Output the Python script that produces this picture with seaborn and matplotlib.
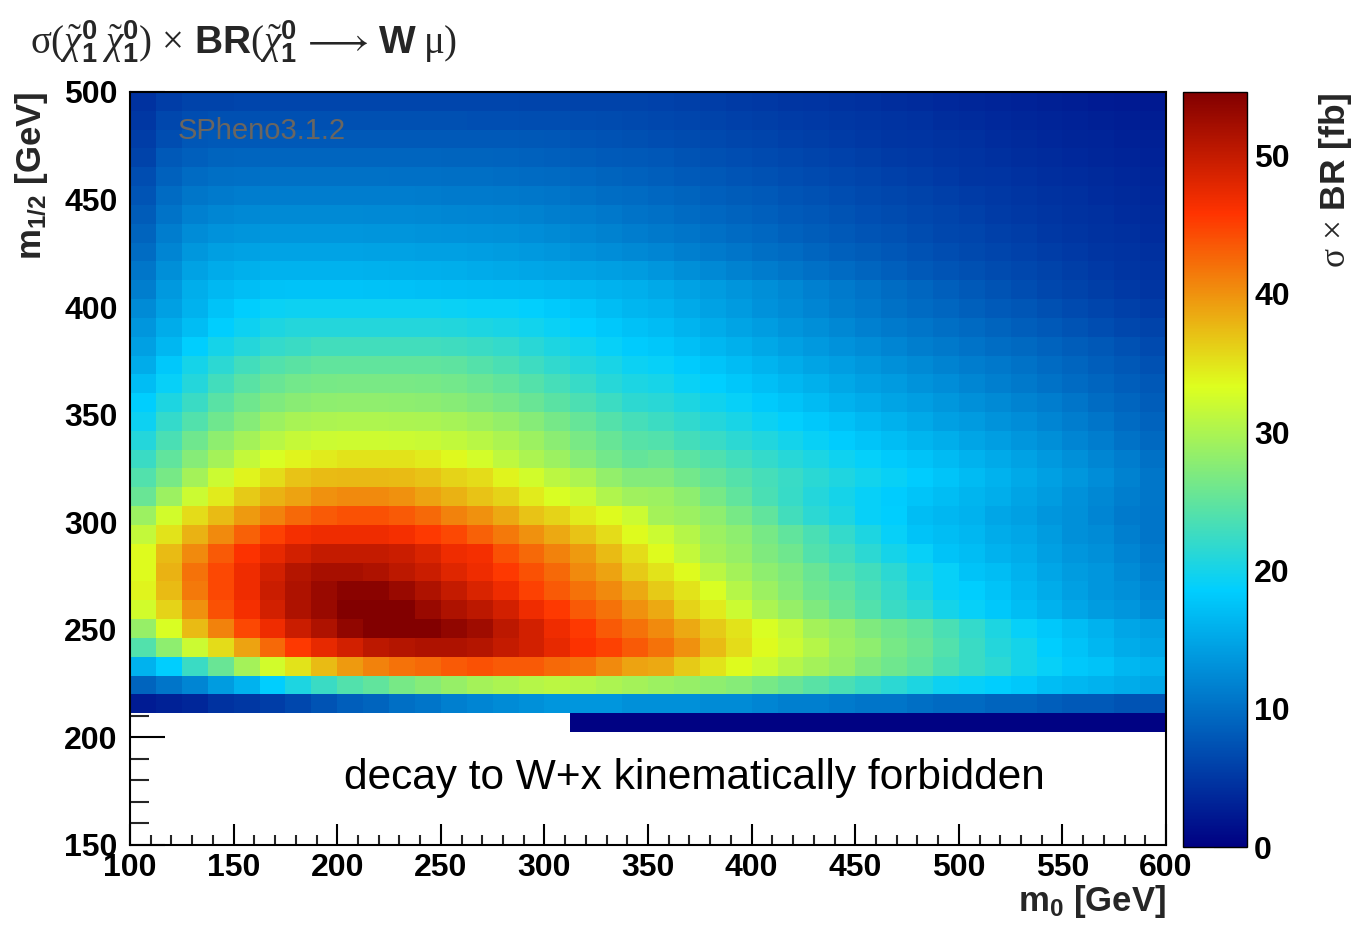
import numpy as np
import pandas as pd
import matplotlib
matplotlib.use("Agg")
import matplotlib.pyplot as plt
import seaborn as sns
from matplotlib.colors import LinearSegmentedColormap

# ---------------- data ----------------
# bins: m0 100..600 GeV (40 bins of 12.5), m1/2 150..500 GeV (40 bins of 8.75)
m0_low = np.arange(100.0, 600.0, 12.5)
m12_low = np.arange(150.0, 500.0, 8.75)

# sigma x BR [fb]; rows from top (m1/2 = 491.25-500) downwards to m1/2 = 202.5-211.25
# columns m0 = 100 ... 587.5 (bin lower edges)
sigma_br_rows = [
    [4.5,5.5,6.0,6.0,6.2,6.2,6.2,6.2,6.2,6.2,6.2,6.2,6.2,6.2,6.2,6.1,6.1,6.0,6.0,6.0, 5.9,5.7,5.5,5.3,5.1,4.9,4.7,4.5,4.3,4.1,3.9,3.7,3.5,3.3,3.1,2.9,2.7,2.5,2.4,2.3],
    [5.0,6.5,7.0,7.2,7.2,7.2,7.2,7.2,7.2,7.2,7.2,7.2,7.2,7.1,7.1,7.0,7.0,6.9,6.8,6.6, 6.4,6.2,6.0,5.8,5.6,5.4,5.2,5.0,4.8,4.6,4.4,4.1,3.9,3.7,3.5,3.3,3.1,2.9,2.7,2.6],
    [5.5,7.0,7.8,8.0,8.1,8.1,8.1,8.1,8.1,8.1,8.1,8.1,8.1,8.0,8.0,7.9,7.8,7.6,7.4,7.2, 7.0,6.8,6.6,6.3,6.1,5.8,5.6,5.4,5.1,4.9,4.7,4.5,4.3,4.0,3.8,3.6,3.4,3.2,3.0,2.9],
    [6.0,8.0,8.6,9.0,9.1,9.1,9.1,9.1,9.1,9.1,9.1,9.1,9.0,9.0,8.9,8.8,8.6,8.4,8.2,8.0, 7.8,7.5,7.2,7.0,6.7,6.4,6.1,5.9,5.6,5.3,5.1,4.8,4.6,4.3,4.1,3.9,3.7,3.5,3.3,3.1],
    [7.0,8.8,9.6,10.0,10.1,10.2,10.2,10.2,10.2,10.2,10.1,10.1,10.0,10.0,9.9,9.7,9.5,9.3,9.0,8.8, 8.5,8.2,7.9,7.6,7.3,7.0,6.7,6.4,6.1,5.8,5.5,5.2,4.9,4.7,4.4,4.2,4.0,3.8,3.6,3.4],
    [7.6,9.6,10.6,11.0,11.2,11.3,11.3,11.3,11.3,11.2,11.2,11.1,11.0,11.0,10.9,10.7,10.5,10.2,9.9,9.6, 9.3,9.0,8.6,8.3,8.0,7.6,7.3,7.0,6.6,6.3,6.0,5.7,5.4,5.1,4.8,4.5,4.3,4.0,3.8,3.6],
    [8.3,10.4,11.6,12.1,12.3,12.4,12.4,12.4,12.4,12.3,12.3,12.2,12.1,12.0,11.9,11.7,11.4,11.1,10.8,10.4, 10.1,9.7,9.3,8.9,8.6,8.2,7.8,7.5,7.1,6.8,6.4,6.1,5.8,5.4,5.1,4.8,4.5,4.3,4.0,3.8],
    [9.0,11.2,12.6,13.2,13.4,13.5,13.5,13.5,13.5,13.4,13.4,13.3,13.2,13.1,13.0,12.7,12.4,12.1,11.7,11.3, 10.9,10.5,10.1,9.7,9.3,8.8,8.4,8.0,7.6,7.3,6.9,6.5,6.2,5.8,5.5,5.1,4.8,4.5,4.3,4.0],
    [9.8,12.0,13.6,14.3,14.6,14.7,14.7,14.7,14.7,14.6,14.6,14.5,14.4,14.2,14.0,13.8,13.5,13.1,12.7,12.3, 12.0,11.5,11.0,10.5,10.0,9.6,9.1,8.7,8.3,7.8,7.4,7.0,6.6,6.2,5.9,5.5,5.2,4.9,4.6,4.3],
    [10.6,12.9,14.6,15.4,15.8,16.0,16.0,16.0,16.0,15.9,15.8,15.7,15.6,15.4,15.2,15.0,14.8,14.6,14.3,14.0, 13.5,12.9,12.3,11.7,11.1,10.6,10.1,9.6,9.1,8.6,8.1,7.6,7.2,6.8,6.4,6.0,5.6,5.2,4.9,4.6],
    [11.4,13.8,15.6,16.6,17.1,17.4,17.5,17.5,17.5,17.4,17.3,17.2,17.1,17.0,16.9,16.8,16.6,16.4,16.1,15.7, 15.2,14.6,14.0,13.4,12.8,12.2,11.6,11.0,10.4,9.8,9.2,8.6,8.0,7.5,7.0,6.5,6.0,5.6,5.2,4.9],
    [12.5,14.5,16.0,17.5,18.5,19.3,19.5,19.5,19.5,19.5,19.5,19.5,19.2,19.0,19.0,18.7,18.2,17.8,17.0,16.4, 16.0,15.3,14.6,13.9,13.2,12.6,12.0,11.4,10.8,10.2,9.7,9.2,8.7,8.2,7.7,7.2,6.7,6.2,5.8,5.4],
    [13.5,15.5,17.0,18.5,19.5,20.5,21.0,21.0,21.0,21.0,21.0,21.0,20.8,20.5,20.2,19.8,19.2,18.6,18.0,17.3, 16.9,16.2,15.5,14.8,14.1,13.4,12.8,12.2,11.6,11.0,10.5,10.0,9.5,9.0,8.5,8.0,7.5,7.0,6.5,6.0],
    [14.5,16.5,18.5,20.0,21.0,22.0,22.5,23.0,23.0,23.0,23.0,23.0,22.8,22.5,22.0,21.3,20.5,19.8,19.0,18.3, 17.9,17.2,16.5,15.8,15.1,14.4,13.8,13.2,12.6,12.0,11.4,10.9,10.4,9.9,9.4,8.9,8.4,7.9,7.3,6.7],
    [15.5,18.0,20.0,21.5,23.0,24.0,24.6,25.0,25.0,25.0,25.0,25.0,24.8,24.2,23.5,22.7,21.8,21.0,20.2,19.4, 19.0,18.3,17.6,16.9,16.2,15.5,14.8,14.2,13.6,13.0,12.4,11.8,11.3,10.8,10.3,9.7,9.1,8.5,7.9,7.3],
    [17.0,19.0,21.0,23.0,24.5,25.5,26.2,26.5,26.6,26.6,26.6,26.5,26.2,25.6,25.0,24.2,23.2,22.2,21.2,20.4, 20.1,19.3,18.6,17.9,17.2,16.5,15.8,15.1,14.5,13.9,13.3,12.7,12.1,11.5,10.9,10.3,9.7,9.1,8.5,7.9],
    [18.5,20.5,22.5,24.5,26.0,27.0,27.7,28.0,28.1,28.1,28.0,27.9,27.6,27.0,26.4,25.5,24.6,23.6,22.6,21.6, 21.3,20.5,19.7,19.0,18.2,17.5,16.8,16.1,15.4,14.8,14.2,13.6,13.0,12.4,11.8,11.2,10.5,9.8,9.1,8.4],
    [19.5,22.0,24.0,26.0,27.5,29.0,29.7,30.0,30.1,30.1,30.0,29.9,29.6,29.1,28.4,27.5,26.4,25.3,24.2,23.2, 22.6,21.8,21.0,20.2,19.4,18.7,18.0,17.3,16.6,15.9,15.2,14.5,13.9,13.3,12.7,12.0,11.3,10.5,9.7,8.9],
    [21.0,23.5,26.0,28.0,29.5,30.8,31.6,32.0,32.1,32.1,32.0,31.8,31.4,30.8,30.0,29.0,27.8,26.6,25.4,24.4, 24.0,23.1,22.3,21.5,20.7,19.9,19.1,18.4,17.7,17.0,16.3,15.6,14.9,14.2,13.5,12.8,12.0,11.2,10.3,9.4],
    [22.5,25.0,27.5,29.5,31.5,33.0,34.0,34.5,35.0,35.0,35.0,34.5,33.6,32.6,31.2,30.0,29.0,27.5,26.2,25.2, 25.6,24.7,23.8,22.9,22.0,21.2,20.4,19.6,18.9,18.2,17.5,16.8,16.0,15.3,14.6,13.8,13.0,12.1,11.2,10.2],
    [24.0,26.5,29.5,32.0,34.0,35.5,37.0,37.5,37.6,37.6,37.5,37.0,36.0,35.5,34.0,32.5,31.0,30.0,28.3,27.2, 27.2,26.2,25.2,24.2,23.2,22.3,21.4,20.6,19.8,19.1,18.4,17.6,16.8,16.0,15.2,14.4,13.6,12.7,11.7,10.6],
    [25.5,29.0,32.0,34.5,36.5,38.0,39.0,40.0,40.5,40.5,40.0,39.0,38.0,37.0,36.0,34.5,33.0,32.0,30.2,29.2, 29.0,28.0,26.5,25.0,23.5,22.2,21.0,20.0,19.0,18.4,17.7,17.0,16.3,15.6,14.8,14.0,13.1,12.2,11.4,10.6],
    [29.0,32.5,35.5,37.5,39.5,41.0,42.5,43.5,44.0,44.0,43.5,42.5,41.0,40.0,38.5,37.0,36.0,34.5,33.5,32.0, 29.5,29.0,28.0,26.5,25.0,23.0,21.5,20.5,19.0,18.5,17.0,16.5,16.0,15.0,14.5,13.5,13.0,12.0,11.0,10.5],
    [31.5,35.0,38.0,40.5,43.0,45.0,46.5,47.0,47.0,47.0,46.5,45.5,44.5,43.0,41.5,40.0,38.5,37.0,35.5,33.5, 32.0,30.5,29.0,28.0,26.5,25.0,23.5,22.0,20.5,19.0,17.5,17.0,16.5,15.5,15.0,14.0,13.0,12.5,11.5,10.5],
    [33.5,37.5,40.5,43.5,46.0,47.5,49.0,50.0,50.0,50.0,49.5,48.5,47.0,46.5,44.0,42.5,41.0,39.5,37.5,35.5, 33.5,31.5,29.5,28.5,27.0,26.0,24.0,23.0,21.5,20.0,19.0,17.5,17.0,16.0,15.5,14.5,13.5,13.0,12.0,11.0],
    [33.5,38.0,42.0,44.5,47.0,49.0,51.0,52.0,52.0,51.5,50.5,49.5,48.0,47.0,45.5,44.0,42.5,40.5,39.0,36.5, 35.0,33.5,31.0,29.5,28.0,27.0,25.5,24.0,23.0,21.5,20.0,19.0,17.5,17.0,16.0,15.0,14.0,13.5,12.5,11.5],
    [34.0,37.5,41.5,44.5,47.0,49.5,51.5,53.0,54.0,54.0,53.0,51.5,50.0,48.5,47.0,45.0,43.5,42.0,40.5,38.5, 36.5,35.0,33.0,30.5,29.0,27.5,26.0,25.0,23.5,22.0,20.5,19.0,18.5,17.5,16.5,15.5,14.5,13.5,13.0,12.0],
    [32.5,36.0,40.0,44.0,46.5,49.0,51.5,53.0,54.5,54.5,54.5,53.0,51.5,50.5,49.0,47.0,45.5,43.5,42.0,40.0, 38.5,36.0,34.5,32.0,30.0,28.5,27.0,25.5,24.0,22.5,21.5,20.0,19.0,18.0,17.0,16.0,15.0,14.0,13.5,12.5],
    [28.5,33.0,37.5,41.0,44.5,47.0,49.5,51.5,53.5,54.5,54.5,54.5,53.5,52.5,50.5,49.0,47.0,45.5,43.5,42.0, 40.5,38.5,36.5,35.0,33.0,31.5,29.5,28.5,27.0,26.0,25.0,23.5,22.0,20.5,19.0,18.0,17.0,16.0,15.0,14.5],
    [24.0,28.0,32.0,35.5,39.0,42.5,45.5,47.5,49.0,50.5,51.0,51.5,51.5,51.0,50.0,49.0,47.5,46.0,45.0,43.5, 42.0,40.0,37.5,35.5,33.5,32.0,30.5,29.0,28.0,26.5,25.5,24.0,22.5,21.0,20.0,18.5,17.5,16.5,15.5,15.0],
    [16.0,18.5,22.5,25.5,29.5,32.5,35.0,37.5,39.5,41.0,42.0,42.5,43.5,44.0,43.5,43.5,42.5,42.0,40.5,39.0, 38.5,36.5,35.0,33.5,32.0,30.5,29.5,28.5,27.0,26.0,25.0,23.5,22.5,21.5,20.0,19.0,18.0,17.5,16.5,16.0],
    [9.0,10.5,12.0,14.0,16.0,18.5,20.5,22.5,24.0,25.0,26.5,27.5,28.5,29.5,30.0,30.5,31.0,30.5,30.0,29.5, 29.0,28.5,28.0,27.5,26.5,25.5,24.5,23.5,22.5,21.5,20.5,19.5,19.0,18.5,18.0,17.0,16.5,16.0,15.5,15.0],
    [2.5,3.0,3.5,4.5,5.0,5.5,6.5,7.5,8.5,9.0,10.0,10.5,11.5,12.0,12.5,13.0,13.5,13.5,13.5,13.0, 13.0,13.0,12.5,12.5,12.0,11.5,11.5,11.0,10.5,10.5,10.0,9.5,9.5,9.0,9.0,8.5,8.0,8.0,7.5,7.5],
    [None]*17 + [0.3,0.3,0.3,0.3,0.3,0.3,0.3,0.3,0.3,0.3,0.3,0.3,0.3,0.3,0.3,0.3,0.3,0.3,0.3,0.3,0.3,0.3,0.3],
]

colorbar_ticks = [0, 10, 20, 30, 40, 50]
x_major = [100, 150, 200, 250, 300, 350, 400, 450, 500, 550, 600]
y_major = [150, 200, 250, 300, 350, 400, 450, 500]

# ---------------- style ----------------
sns.set_style("white")
plt.rcParams["font.family"] = ["Liberation Sans", "DejaVu Sans"]
plt.rcParams["mathtext.fontset"] = "custom"
plt.rcParams["mathtext.rm"] = "Liberation Serif"
plt.rcParams["mathtext.it"] = "Liberation Serif:italic"
plt.rcParams["mathtext.bf"] = "Liberation Sans:bold"

# ROOT-like rainbow palette
stops = [0.00, 0.34, 0.61, 0.84, 1.00]
red = [0.00, 0.00, 0.87, 1.00, 0.51]
green = [0.00, 0.81, 1.00, 0.20, 0.00]
blue = [0.51, 1.00, 0.12, 0.00, 0.00]
cmap = LinearSegmentedColormap.from_list(
    "root", [(s, (r, g, b)) for s, r, g, b in zip(stops, red, green, blue)], N=512)
zmax = 54.6

# full grid (top row first)
n_rows = len(m12_low)
grid = np.full((n_rows, len(m0_low)), np.nan)
vals = np.array([[np.nan if v is None else v for v in row] for row in sigma_br_rows], dtype=float)
grid[:vals.shape[0], :] = vals
df = pd.DataFrame(grid, index=[f"{v:.2f}" for v in m12_low[::-1]],
                  columns=[f"{v:.1f}" for v in m0_low])

fig = plt.figure(figsize=(13.6, 9.25), dpi=100)
ax = fig.add_axes([0.0956, 0.0865, 0.7618, 0.8141])
cax = fig.add_axes([0.8699, 0.0843, 0.0471, 0.8162])

sns.heatmap(df, ax=ax, cbar_ax=cax, cmap=cmap, vmin=0, vmax=zmax,
            xticklabels=False, yticklabels=False)

# coordinate helpers (heatmap cells are unit squares)
dx = m0_low[1] - m0_low[0]
dy = m12_low[1] - m12_low[0]
def xpos(v):
    return (v - m0_low[0]) / dx
def ypos(v):
    return (m12_low[-1] + dy - v) / dy

ax.set_xlim(0, len(m0_low))
ax.set_ylim(len(m12_low), 0)

ax.set_xticks([xpos(v) for v in x_major])
ax.set_xticklabels([str(v) for v in x_major])
ax.set_xticks([xpos(v) for v in range(100, 601, 10)], minor=True)
ax.set_yticks([ypos(v) for v in y_major])
ax.set_yticklabels([str(v) for v in y_major], rotation=0)
ax.set_yticks([ypos(v) for v in range(150, 501, 10)], minor=True)

ax.tick_params(axis="x", which="major", direction="in", length=15, width=1.5,
               bottom=True, top=False, labelsize=23, pad=6, colors="black")
ax.tick_params(axis="x", which="minor", direction="in", length=7.5, width=1.5,
               bottom=True, top=False)
ax.tick_params(axis="y", which="major", direction="in", length=25, width=1.5,
               left=True, right=False, labelsize=23, pad=9, colors="black")
ax.tick_params(axis="y", which="minor", direction="in", length=13.5, width=1.5,
               left=True, right=False)
for lab in ax.get_xticklabels() + ax.get_yticklabels():
    lab.set_fontweight("bold")
ax.set_xlabel("")
ax.set_ylabel("")
for sp in ax.spines.values():
    sp.set_visible(True)
    sp.set_linewidth(1.5)
    sp.set_color("black")

# colour bar
cbar = ax.collections[0].colorbar
cbar.set_ticks(colorbar_ticks)
cbar.set_ticklabels([str(t) for t in colorbar_ticks])
cax.tick_params(axis="y", direction="in", length=24, width=1.5, labelsize=23,
                pad=5, right=True, left=False, colors="black")
for lab in cax.get_yticklabels():
    lab.set_fontweight("bold")
cbar.outline.set_visible(True)
cbar.outline.set_linewidth(1.0)
cbar.outline.set_edgecolor("black")

# texts
ax.text(xpos(123.0), ypos(482.0), "SPheno3.1.2", color="#6b6660", fontsize=21,
        ha="left", va="center")
ax.text(xpos(372.5), ypos(181.0), "decay to W+x kinematically forbidden",
        color="black", fontsize=30.5, ha="center", va="center")

fig.text(0.022, 0.955,
         r"$\mathrm{\sigma}(\tilde{\chi}^{\mathbf{0}}_{\mathbf{1}}\;\tilde{\chi}^{\mathbf{0}}_{\mathbf{1}})"
         r"\,\times\,\mathbf{BR}(\tilde{\chi}^{\mathbf{0}}_{\mathbf{1}}\,\longrightarrow\,\mathbf{W}\;\mathrm{\mu})$",
         fontsize=28, ha="left", va="center")
fig.text(0.0235, 0.9005, r"m$_{\mathbf{1/2}}$ [GeV]", fontsize=25, fontweight="bold",
         rotation=90, ha="center", va="top")
fig.text(0.857, 0.025, r"m$_{\mathbf{0}}$ [GeV]", fontsize=25, fontweight="bold",
         ha="right", va="center")
fig.text(0.982, 0.9005, r"$\mathrm{\sigma}\,\times\,$BR [fb]", fontsize=25.5, fontweight="bold",
         rotation=90, ha="center", va="top")

fig.savefig("out.png", dpi=100, facecolor="white")
